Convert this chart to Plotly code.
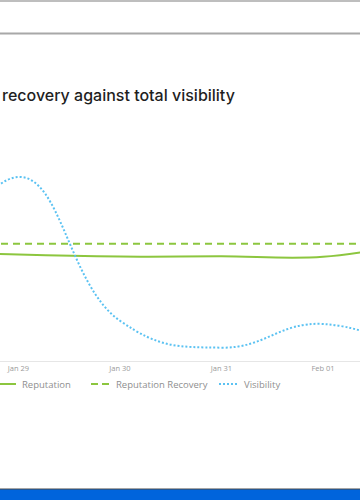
import plotly.graph_objects as go

dates = ["2024-01-28", "2024-01-29", "2024-01-30", "2024-01-31", "2024-02-01", "2024-02-02"]
reputation = [48.0, 46.3, 45.4, 45.5, 45.3, 52.0]
reputation_recovery = [51.0, 51.0, 51.0, 51.0, 51.0, 51.0]
visibility = [5.0, 80.0, 17.5, 5.8, 16.1, 1.0]

title_text = "recovery against total visibility"
legend_labels = ["Reputation", "Reputation Recovery", "Visibility"]

GREEN = "#8cc63f"
BLUE = "#5bc2f2"

W, H = 360, 500
PLOT_TOP, PLOT_BOT = 131, 361


def py(ypix):
    return (PLOT_BOT - ypix) / (PLOT_BOT - PLOT_TOP)


def px(xpix):
    return xpix / W


fig = go.Figure()
fig.add_trace(go.Scatter(x=dates, y=reputation, mode="lines", name=legend_labels[0],
                         line=dict(color=GREEN, width=2, shape="spline")))
fig.add_trace(go.Scatter(x=dates, y=reputation_recovery, mode="lines", name=legend_labels[1],
                         line=dict(color=GREEN, width=2, dash="7px,5px")))
fig.add_trace(go.Scatter(x=dates, y=visibility, mode="lines", name=legend_labels[2],
                         line=dict(color=BLUE, width=2, dash="2px,2px", shape="spline",
                                   smoothing=1.3)))

shapes = [
    dict(type="line", xref="paper", yref="paper", x0=0, x1=1, y0=py(1), y1=py(1),
         line=dict(color="#a8a8a8", width=1.5)),
    dict(type="line", xref="paper", yref="paper", x0=0, x1=1, y0=py(33.5), y1=py(33.5),
         line=dict(color="#a8a8a8", width=2)),
    dict(type="rect", xref="paper", yref="paper", x0=-0.01, x1=1.01, y0=py(489), y1=py(501),
         fillcolor="#0064dc", line=dict(color="#4a4a4a", width=1)),
    # legend samples
    dict(type="line", xref="paper", yref="paper", x0=px(-4), x1=px(16), y0=py(384), y1=py(384),
         line=dict(color=GREEN, width=2)),
    dict(type="line", xref="paper", yref="paper", x0=px(91), x1=px(109), y0=py(384), y1=py(384),
         line=dict(color=GREEN, width=2, dash="7px,4px")),
    dict(type="line", xref="paper", yref="paper", x0=px(219), x1=px(238), y0=py(384), y1=py(384),
         line=dict(color=BLUE, width=2, dash="2px,2px")),
]

legend_font = dict(family="Open Sans", size=9.5, color="#8f8f8f")
annotations = [
    dict(text=title_text, xref="paper", yref="paper", x=0, y=py(95), xanchor="left",
         yanchor="middle", showarrow=False,
         font=dict(family="Inter", size=16, color="#1f1f1f", weight=500)),
    dict(text=legend_labels[0], xref="paper", yref="paper", x=px(20), y=py(384),
         xanchor="left", yanchor="middle", showarrow=False, font=legend_font),
    dict(text=legend_labels[1], xref="paper", yref="paper", x=px(114), y=py(384),
         xanchor="left", yanchor="middle", showarrow=False, font=legend_font),
    dict(text=legend_labels[2], xref="paper", yref="paper", x=px(242), y=py(384),
         xanchor="left", yanchor="middle", showarrow=False, font=legend_font),
]

fig.update_layout(
    width=W, height=H,
    margin=dict(l=0, r=0, t=PLOT_TOP, b=H - PLOT_BOT, pad=0),
    paper_bgcolor="white", plot_bgcolor="white",
    showlegend=False,
    shapes=shapes, annotations=annotations,
    xaxis=dict(range=["2024-01-28 19:37:30", "2024-02-01 08:45"], tickformat="%b %d",
               dtick=86400000, tick0="2024-01-29",
               showgrid=False, zeroline=False, showline=True, linecolor="#e6e6e6", linewidth=1,
               ticks="", tickfont=dict(family="Open Sans", size=7.5, color="#9a9a9a")),
    yaxis=dict(range=[0, 100], visible=False, showgrid=False, zeroline=False),
)

fig.write_html(
    "out.html",
    config={"displayModeBar": False},
    post_script="document.body.style.margin='0';document.body.style.overflow='hidden';",
)
